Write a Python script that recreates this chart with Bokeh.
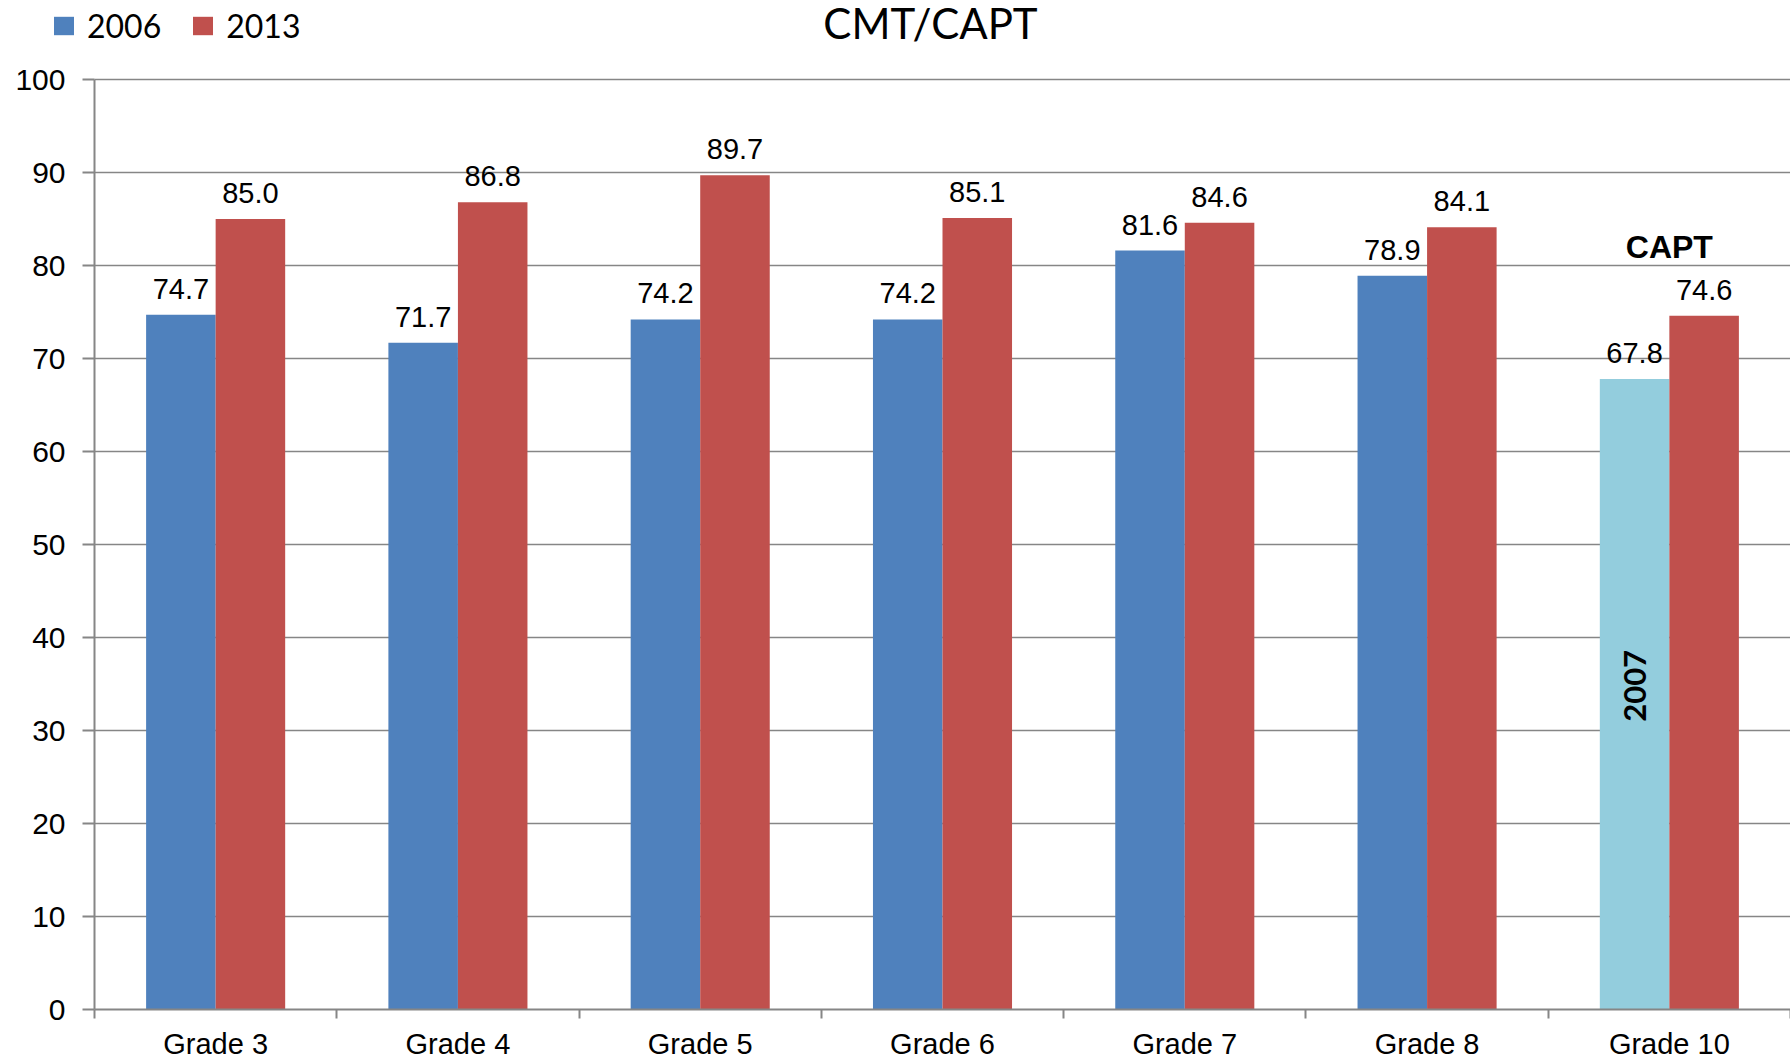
from bokeh.plotting import figure
from bokeh.models import (ColumnDataSource, Range1d, FixedTicker, Legend, LegendItem, Label)
from bokeh.core.properties import value
from bokeh.embed import file_html
from bokeh.resources import INLINE

categories = ["Grade 3", "Grade 4", "Grade 5", "Grade 6", "Grade 7", "Grade 8", "Grade 10"]
values_2006 = [74.7, 71.7, 74.2, 74.2, 81.6, 78.9, 67.8]
values_2013 = [85.0, 86.8, 89.7, 85.1, 84.6, 84.1, 74.6]
series_names = ["2006", "2013"]
colors_2006 = ["#4F81BD"] * 6 + ["#93CDDD"]
color_2013 = "#C0504D"
y_ticks = [0, 10, 20, 30, 40, 50, 60, 70, 80, 90, 100]
y_max = 100

# layout (pixels)
FRAME_W = 1790
FRAME_H = 1058
AXIS_X = 94        # pixel position of the value axis
TOP_Y = 79         # pixel row of the top gridline (100)
BASE_Y = 1009      # pixel row of the category axis (0)

BAR_W = 0.287
OFF = BAR_W / 2
n = len(categories)
cat_px = (FRAME_W - AXIS_X) / n
val_px = (BASE_Y - TOP_Y) / y_max

centers = [i + 0.5 for i in range(n)]
src1 = ColumnDataSource(dict(
    x=[c - OFF for c in centers], top=values_2006, color=colors_2006,
    label=[f"{v:.1f}" for v in values_2006]))
src2 = ColumnDataSource(dict(
    x=[c + OFF for c in centers], top=values_2013,
    label=[f"{v:.1f}" for v in values_2013]))

p = figure(frame_width=FRAME_W, frame_height=FRAME_H, output_backend="svg",
           toolbar_location=None,
           x_range=Range1d(-AXIS_X / cat_px, n),
           y_range=Range1d(-(FRAME_H - BASE_Y) / val_px, y_max + TOP_Y / val_px),
           min_border_left=0, min_border_right=0, min_border_top=0, min_border_bottom=0)
p.outline_line_color = None
p.background_fill_color = "white"
p.border_fill_color = "white"
p.grid.grid_line_color = None

# horizontal gridlines, from the axis to the right edge
p.segment(x0=0, x1=n, y0=y_ticks[1:], y1=y_ticks[1:], line_color="#868686", line_width=1.5)

r1 = p.vbar(x="x", top="top", width=BAR_W, fill_color="color", line_color=None, source=src1)
r2 = p.vbar(x="x", top="top", width=BAR_W, fill_color=color_2013, line_color=None, source=src2)

lbl_font = value("Liberation Sans")
for s in (src1, src2):
    p.text(x="x", y="top", text="label", source=s, text_align="center", text_baseline="middle",
           y_offset=-26, text_font=lbl_font, text_font_size="29px", text_color="black")

# annotations on Grade 10
p.text(x=[centers[-1]], y=[82.0], text=["CAPT"], text_align="center", text_baseline="middle",
       text_font=lbl_font, text_font_size="32px", text_font_style="bold", text_color="black")
p.text(x=[centers[-1] - OFF], y=[34.8], text=["2007"], angle=1.5708, text_align="center",
       text_baseline="middle", text_font=value("Lato"), text_font_size="31px",
       text_font_style="bold", text_color="black")

# x axis, drawn at y = 0
p.xaxis.fixed_location = 0
p.xaxis.bounds = (0, n)
p.xaxis.ticker = FixedTicker(ticks=centers, minor_ticks=list(range(n + 1)))
p.xaxis.major_label_overrides = {c: name for c, name in zip(centers, categories)}
p.xaxis.major_tick_line_color = None
p.xaxis.minor_tick_out = 9
p.xaxis.minor_tick_in = 0
p.xaxis.minor_tick_line_color = "#868686"
p.xaxis.minor_tick_line_width = 2
p.xaxis.axis_line_color = "#868686"
p.xaxis.axis_line_width = 2
p.xaxis.major_label_text_font = "Liberation Sans"
p.xaxis.major_label_text_font_size = "29px"
p.xaxis.major_label_text_color = "black"
p.xaxis.major_label_standoff = 9

# y axis, drawn at x = 0
p.yaxis.fixed_location = 0
p.yaxis.bounds = (0, y_max)
p.yaxis.ticker = FixedTicker(ticks=y_ticks)
p.yaxis.minor_tick_line_color = None
p.yaxis.major_tick_out = 12
p.yaxis.major_tick_in = 0
p.yaxis.major_tick_line_color = "#868686"
p.yaxis.major_tick_line_width = 2
p.yaxis.axis_line_color = "#868686"
p.yaxis.axis_line_width = 2
p.yaxis.major_label_text_font = "Liberation Sans"
p.yaxis.major_label_text_font_size = "30px"
p.yaxis.major_label_text_color = "black"
p.yaxis.major_label_standoff = 17

# title
p.add_layout(Label(x=930, y=FRAME_H - 22, x_units="screen", y_units="screen",
                   text="CMT/CAPT", text_align="center", text_baseline="alphabetic",
                   text_font="Lato", text_font_size="42px", text_color="black"))

legend = Legend(items=[LegendItem(label=series_names[0], renderers=[r1], index=0),
                       LegendItem(label=series_names[1], renderers=[r2])],
                orientation="horizontal", location=(51, FRAME_H - 45),
                padding=0, margin=0, spacing=29, label_standoff=11,
                glyph_width=25, glyph_height=23,
                label_text_font="Lato", label_text_font_size="32px",
                label_text_color="black",
                border_line_color=None, background_fill_alpha=0)
p.add_layout(legend, "center")

open("out.html", "w").write(file_html(p, INLINE))
